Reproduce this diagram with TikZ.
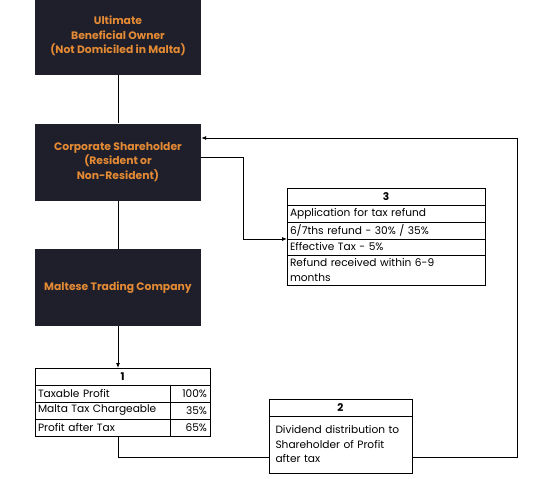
\documentclass[tikz,border=0pt]{standalone}
\usepackage{fontspec}
\setmainfont{Poppins}
\usetikzlibrary{positioning,arrows.meta}

\definecolor{boxdark}{HTML}{1E1F2B}
\definecolor{boxorange}{HTML}{E48A34}

\tikzset{
  entity/.style={rectangle, fill=boxdark, minimum width=166, minimum height=77,
    inner sep=0pt, text=boxorange, align=center,
    font=\bfseries\fontsize{10.8}{14.5}\selectfont},
  cell/.style={rectangle, draw, line width=0.8pt, outer sep=0pt, inner xsep=3pt,
    inner ysep=0pt, anchor=north west, minimum height=17, align=left,
    font=\fontsize{10.6}{14.5}\selectfont},
  headcell/.style={cell, align=center, font=\bfseries\fontsize{10.6}{14.5}\selectfont},
  link/.style={line width=0.8pt},
  arrowlink/.style={link, -{Latex[length=5pt,width=4pt]}}
}

\begin{document}
\begin{tikzpicture}[x=1pt, y=-1pt]
\useasboundingbox (0,0) rectangle (536,479);

% ownership chain
\node[entity] (ubo) at (118,36) {Ultimate\\Beneficial Owner\\(Not Domiciled in Malta)};
\node[entity] (corp) at (118,162) {Corporate Shareholder\\(Resident or\\Non-Resident)};
\node[entity] (mtc) at (118,287.5) {Maltese Trading Company};

% table 1
\node[headcell, text width=169] (t1h) at (35,368) {1};
\node[cell, text width=129] (t1a) at (t1h.south west) {Taxable Profit};
\node[cell, text width=129] (t1b) at (t1a.south west) {Malta Tax Chargeable};
\node[cell, text width=129] (t1c) at (t1b.south west) {Profit after Tax};
\node[cell, text width=34, align=right] (t1x) at (t1a.north east) {100\%};
\node[cell, text width=34, align=right] (t1y) at (t1b.north east) {35\%};
\node[cell, text width=34, align=right] (t1z) at (t1c.north east) {65\%};

% table 2
\node[headcell, text width=137] (t2h) at (269,399) {2};
\node[cell, text width=130, inner xsep=6.5pt, minimum height=57] (t2b) at (t2h.south west)
  {Dividend distribution to\\Shareholder of Profit\\after tax};

% table 3
\node[headcell, text width=192] (t3h) at (287,188) {3};
\node[cell, text width=192] (t3a) at (t3h.south west) {Application for tax refund};
\node[cell, text width=192] (t3b) at (t3a.south west) {6/7ths refund - 30\% / 35\%};
\node[cell, text width=192, minimum height=16] (t3c) at (t3b.south west) {Effective Tax - 5\%};
\node[cell, text width=192, minimum height=30] (t3d) at (t3c.south west) {Refund received within 6-9\\months};

% connectors
\coordinate (low) at (0,457.5);
\coordinate (rail) at (517,138);
\coordinate (bend) at (243,157);
\draw[link] (ubo) -- (corp);
\draw[link] (corp) -- (mtc);
\draw[arrowlink] (mtc) -- (mtc |- t1h.north);
\draw[link] (mtc |- t1c.south) |- (t2b.west |- low);
\draw[arrowlink] (t2b.east |- low) -| (rail) -- (corp.east |- rail);
\draw[arrowlink] (corp.east |- bend) -- (bend) |- (t3c.north west);
\end{tikzpicture}
\end{document}
